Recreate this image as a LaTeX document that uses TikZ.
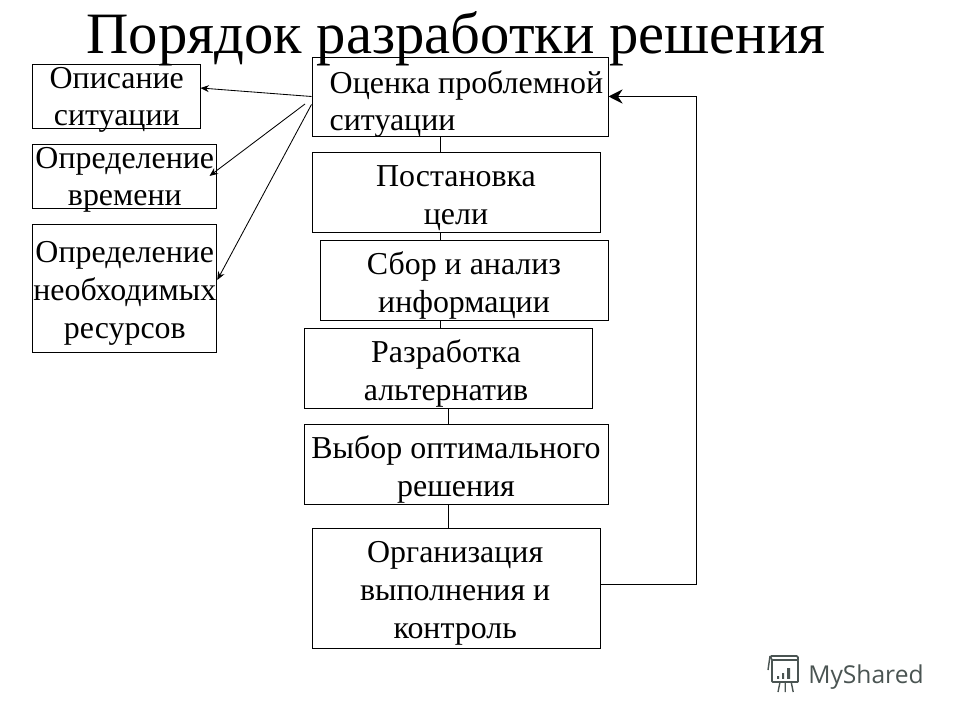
\documentclass[tikz,border=0pt]{standalone}
\usepackage{fontspec}
\setmainfont{Liberation Serif}
\newfontfamily\marchio{Open Sans}
\definecolor{grigiologo}{HTML}{4A5452}
\tikzset{
    blocco/.style={draw, line width=0.7pt, inner sep=0pt, fill=none},
    testo/.style={inner sep=0pt, anchor=base, align=center, font=\fontsize{22.7}{27}\selectfont},
    freccia/.style={-{Stealth[length=6pt,width=5pt]}, line width=0.6pt}
}
\usetikzlibrary{arrows.meta}
\begin{document}
\begin{tikzpicture}
    \useasboundingbox (0,0) rectangle (24,18);
    %titolo
    \node (titolo) at (11.4,16.67)[inner sep=0pt, anchor=base, font=\fontsize{41.7}{44}\selectfont]{Порядок разработки решения};
    %riquadri colonna centrale
    \node (ocenka) at (11.5,15.5875)[blocco, minimum width=7.4cm, minimum height=1.975cm]{};
    \node (postanovka) at (11.4,13.2)[blocco, minimum width=7.2cm, minimum height=2cm]{};
    \node (sbor) at (11.6,11)[blocco, minimum width=7.2cm, minimum height=2cm]{};
    \node (razrabotka) at (11.2,8.8)[blocco, minimum width=7.2cm, minimum height=2cm]{};
    \node (vybor) at (11.4,6.4)[blocco, minimum width=7.6cm, minimum height=2cm]{};
    \node (organizacia) at (11.4,3.3)[blocco, minimum width=7.2cm, minimum height=3cm]{};
    %riquadri colonna sinistra
    \node (opisanie) at (2.9,15.6)[blocco, minimum width=4.2cm, minimum height=1.6cm]{};
    \node (vremya) at (3.1,13.6)[blocco, minimum width=4.6cm, minimum height=1.6cm]{};
    \node (resursy) at (3.1,10.8)[blocco, minimum width=4.6cm, minimum height=3.2cm]{};
    %testi
    \node (ocenkaT) at (11.66,14.725)[testo, align=left]{Оценка проблемной\\ситуации};
    \node (postanovkaT) at (11.4,12.4)[testo]{Постановка\\цели};
    \node (sborT) at (11.6,10.2)[testo]{Сбор и анализ\\информации};
    \node (razrabotkaT) at (11.15,8)[testo]{Разработка\\альтернатив};
    \node (vyborT) at (11.4,5.6)[testo]{Выбор оптимального\\решения};
    \node (organizaciaT) at (11.38,2.05)[testo]{Организация\\выполнения и\\контроль};
    \node (opisanieT) at (2.92,14.85)[testo]{Описание\\ситуации};
    \node (vremyaT) at (3.12,12.85)[testo]{Определение\\времени};
    \node (resursyT) at (3.12,9.55)[testo]{Определение\\необходимых\\ресурсов};
    %collegamenti verticali
    \coordinate (asseA) at (11,0);
    \coordinate (asseB) at (11.2,0);
    \draw[line width=0.7pt] (ocenka.south -| asseA)--(postanovka.north -| asseA);
    \draw[line width=0.7pt] (postanovka.south -| asseA)--(sbor.north -| asseA);
    \draw[line width=0.7pt] (sbor.south -| asseA)--(razrabotka.north -| asseA);
    \draw[line width=0.7pt] (razrabotka.south -| asseB)--(vybor.north -| asseB);
    \draw[line width=0.7pt] (vybor.south -| asseB)--(organizacia.north -| asseB);
    %frecce a sinistra
    \coordinate (partenza) at (7.625,15.4);
    \draw[freccia] (ocenka.west)--([yshift=0.2cm]opisanie.east);
    \draw[freccia] (partenza)--([xshift=-0.175cm]vremya.east);
    \draw[freccia] ([yshift=-0.2cm]ocenka.west)--([yshift=0.2cm,xshift=0.02cm]resursy.east);
    %ritorno
    \coordinate (angolo) at (17.4,15.5875);
    \draw[line width=0.7pt] ([yshift=0.1cm]organizacia.east)-|(angolo);
    \draw[line width=1.4pt, -{Stealth[length=10pt,width=10pt]}] (angolo)--(ocenka.east);
    %logo
    \node (logo) at (20.2,0.92)[inner sep=0pt, anchor=base west, text=grigiologo, font=\marchio\fontsize{17.5}{20}\selectfont]{MyShared};
    \draw[grigiologo, line width=1.2pt, rounded corners=0.5pt] (19.3,1.5) rectangle (19.95,0.95);
    \draw[grigiologo, line width=1.2pt, rounded corners=1pt] (19.3,1.5)--(19.25,1.6)--(19.95,1.6)--(19.95,1.5);
    \draw[grigiologo, line width=1pt] (19.25,1.6)--(19.2,1.25);
    \fill[grigiologo] (19.43,1.03) rectangle (19.48,1.1) (19.55,1.03) rectangle (19.6,1.17) (19.68,1.03) rectangle (19.75,1.3);
    \draw[grigiologo, line width=1pt] (19.5,0.95)--(19.45,0.7) (19.63,0.95)--(19.63,0.7) (19.78,0.95)--(19.83,0.7);
\end{tikzpicture}
\end{document}
